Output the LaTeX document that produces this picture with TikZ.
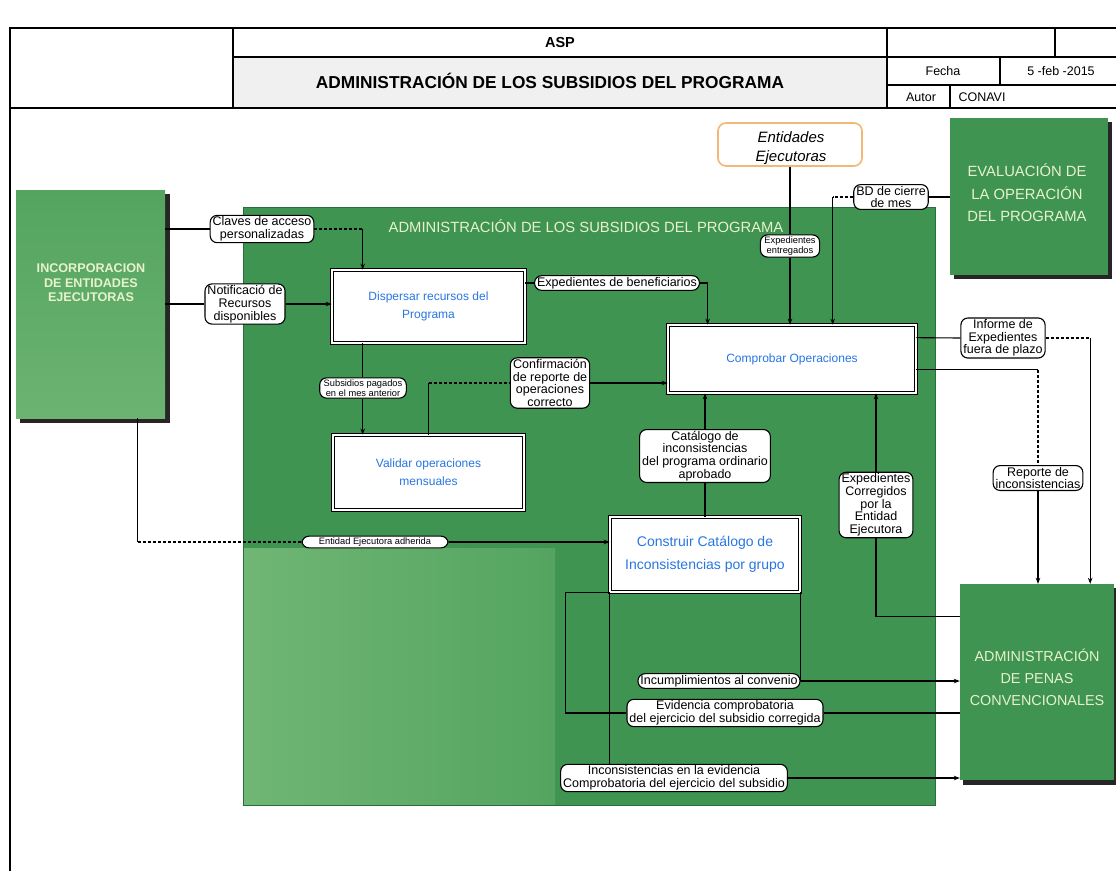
\documentclass[tikz,border=0pt]{standalone}
\usepackage{fontspec}
\setmainfont{Liberation Sans}
\usetikzlibrary{arrows.meta,calc}

\definecolor{areaGreen}{RGB}{62,148,80}
\definecolor{areaEdge}{RGB}{40,110,58}
\definecolor{paleGreen}{RGB}{112,182,116}
\definecolor{midGreen}{RGB}{84,164,96}
\definecolor{boxText}{RGB}{232,242,205}
\definecolor{procBlue}{RGB}{40,118,226}
\definecolor{entBorder}{RGB}{242,184,116}
\definecolor{hdrGray}{RGB}{240,240,240}

\begin{document}
\begin{tikzpicture}[x=1pt,y=-1pt,
  frame/.style={draw=black,line width=1.3pt},
  conn/.style={draw=black,line width=1.1pt},
  arr/.style={-{Stealth[length=6pt,width=4.5pt]}},
  pill/.style={draw=black,line width=1.1pt,fill=white,rounded corners=7pt,
    align=center,inner xsep=2.5pt,inner ysep=1.5pt,
    font=\fontsize{12.5}{12.7}\selectfont},
  smallpill/.style={pill,inner xsep=4pt,font=\fontsize{9.3}{10.5}\selectfont},
  proc/.style={draw=black,line width=0.7pt,double=white,double distance=2.2pt,
    fill=white,align=center,text=procBlue,font=\fontsize{12}{18}\selectfont},
  bigbox/.style={draw=none},
  bigtext/.style={align=center,text=boxText,font=\fontsize{14.8}{22.5}\selectfont},
  hdr/.style={font=\fontsize{12.5}{14}\selectfont}]

\useasboundingbox (0,0) rectangle (1116,871);
\fill[white] (0,0) rectangle (1116,871);

% ---- title block ----
\fill[hdrGray] (233,57) rectangle (887,108);
\draw[frame] (10,871) -- (10,28) -- (1116,28);
\draw[frame] (10,108) -- (1116,108);
\draw[frame] (233,28) -- (233,108);
\draw[frame] (233,57) -- (1116,57);
\draw[frame] (887,28) -- (887,108);
\draw[frame] (1055,28) -- (1055,57);
\draw[frame] (887,85) -- (1116,85);
\draw[frame] (1000,57) -- (1000,85);
\draw[frame] (950,85) -- (950,108);
\node[font=\bfseries\fontsize{14.5}{16}\selectfont] (asp) at (560,43) {ASP};
\node[font=\bfseries\fontsize{17.3}{20}\selectfont] (title) at (550,81) {ADMINISTRACIÓN DE LOS SUBSIDIOS DEL PROGRAMA};
\node[hdr] (fecha) at (943,71) {Fecha};
\node[hdr] (fechaVal) at (1061,71) {5 -feb -2015};
\node[hdr] (autor) at (921,97) {Autor};
\node[hdr,anchor=west] (autorVal) at (955,97) {CONAVI};

% ---- process area ----
\fill[areaGreen] (243,207) rectangle (935,805);
\shade[left color=paleGreen,right color=midGreen] (243,548) rectangle (555,805);
\draw[areaEdge,line width=0.8pt] (243,207) rectangle (935,805);
\node[text=boxText,font=\fontsize{14.8}{16}\selectfont] (areaTitle) at (586,226)
  {ADMINISTRACIÓN DE LOS SUBSIDIOS DEL PROGRAMA};

% ---- outer blocks with drop shadows ----
\fill[black!85] (20,194) rectangle (170,423);
\node[bigbox,shade,top color=midGreen,bottom color=paleGreen!85!midGreen,
  minimum width=149pt,minimum height=228pt] (incorp) at (90.5,304) {};
\node[text=boxText,align=center,font=\bfseries\fontsize{12.6}{14.5}\selectfont]
  (incorpLbl) at (91,283) {INCORPORACION\\DE ENTIDADES\\EJECUTORAS};

\fill[black!85] (954,122) rectangle (1112,279);
\node[bigbox,fill=areaGreen,minimum width=158pt,minimum height=157pt] (evalb) at (1029,196.5) {};
\node[bigtext] (evalbLbl) at (1027,193) {EVALUACIÓN DE\\LA OPERACIÓN\\DEL PROGRAMA};

\fill[black!85] (963,588) rectangle (1116,785);
\node[bigbox,fill=areaGreen,minimum width=154pt,minimum height=196pt] (penas) at (1037,682) {};
\node[bigtext,font=\fontsize{14.4}{22}\selectfont] (penasLbl) at (1037,677)
  {ADMINISTRACIÓN\\DE PENAS\\CONVENCIONALES};

\node[draw=entBorder,line width=1.6pt,fill=white,rounded corners=8pt,
  minimum width=144pt,minimum height=43pt] (entid) at (790,144.5) {};
\node[align=center,font=\itshape\fontsize{15}{19}\selectfont] (entidLbl) at (791,148)
  {Entidades\\Ejecutoras};

% ---- activities ----
\node[proc,minimum width=193pt,minimum height=73pt] (disp) at (428.5,306.5)
  {Dispersar recursos del\\Programa};
\node[proc,minimum width=191pt,minimum height=75pt] (valid) at (428.5,472.5)
  {Validar operaciones\\mensuales};
\node[proc,minimum width=248pt,minimum height=68pt] (comp) at (792,359)
  {Comprobar Operaciones};
\node[proc,minimum width=190pt,minimum height=75pt,
  font=\fontsize{14}{23}\selectfont] (constr) at (705,554.5)
  {Construir Catálogo de\\Inconsistencias por grupo};

% ---- flow labels ----
\node[pill] (claves) at (262,229) {Claves de acceso\\personalizadas};
\node[pill] (notif) at (245,304) {Notificació de\\Recursos\\disponibles};
\node[pill] (benef) at (617,283) {Expedientes de beneficiarios};
\node[smallpill] (expent) at (790,246) {Expedientes\\entregados};
\node[pill] (bd) at (891,197) {BD de cierre\\de mes};
\node[smallpill] (subs) at (363,388) {Subsidios pagados\\en el mes anterior};
\node[pill] (confirm) at (550,383) {Confirmación\\de reporte de\\operaciones\\correcto};
\node[pill] (catal) at (705,456) {Catálogo de\\inconsistencias\\del programa ordinario\\aprobado};
\node[pill] (inf) at (1003,338) {Informe de\\Expedientes\\fuera de plazo};
\node[pill] (corr) at (876,505) {Expedientes\\Corregidos\\por la\\Entidad\\Ejecutora};
\node[pill] (rep) at (1038,478) {Reporte de\\inconsistencias};
\node[smallpill,inner xsep=17pt] (adher) at (375,542) {Entidad Ejecutora adherida};
\node[pill] (incump) at (719,681) {Incumplimientos al convenio};
\node[pill] (evid) at (725,713) {Evidencia comprobatoria\\del ejercicio del subsidio corregida};
\node[pill] (inconsist) at (674,778) {Inconsistencias en la evidencia\\Comprobatoria del ejercicio del subsidio};

% ---- connector anchor points on box edges ----
\coordinate (dIn) at ([xshift=31pt]disp.north west);
\coordinate (dOut) at ([xshift=31pt]disp.south west);
\coordinate (cA) at ([xshift=40pt]comp.north west);
\coordinate (cB) at ([xshift=165pt]comp.north west);
\coordinate (cC) at ([yshift=-13pt]comp.north east);
\coordinate (cD) at ([yshift=-45pt]comp.north east);
\coordinate (pA) at ([yshift=-33pt]penas.north west);
\coordinate (pB) at ([xshift=-24pt]penas.north east);
\coordinate (iA) at ([xshift=122pt]incorp.south west);
\coordinate (kA) at ([xshift=-44pt]constr.south west);

% ---- connectors ----
\draw[conn] (incorp.east |- claves.west) -- (claves.west);
\draw[conn,densely dashed] (claves.east) -- (claves.east -| dIn);
\draw[conn,arr] (claves.east -| dIn) -- (dIn);

\draw[conn] (incorp.east |- notif.west) -- (notif.west);
\draw[conn,arr] (notif.east) -- (notif.east -| disp.west);

\draw[conn] (disp.east |- benef.west) -- (benef.west);
\draw[conn,arr] (benef.east) -| (cA);

\draw[conn] (entid.south) -- (expent.north);
\draw[conn,arr] (expent.south) -- (expent.south |- comp.north);

\draw[conn] (evalb.west |- bd.east) -- (bd.east);
\draw[conn,densely dashed] (bd.west) -- (bd.west -| cB);
\draw[conn,arr] (bd.west -| cB) -- (cB);

\draw[conn] (dOut) -- (dOut |- subs.north);
\draw[conn,arr] (dOut |- subs.south) -- (dOut |- valid.north);

\draw[conn] (valid.north) -- (valid.north |- confirm.west);
\draw[conn,densely dashed] (valid.north |- confirm.west) -- (confirm.west);
\draw[conn,arr] (confirm.east) -- (confirm.east -| comp.west);

\draw[conn] (constr.north) -- (constr.north |- catal.south);
\draw[conn,arr] (constr.north |- catal.north) -- (constr.north |- comp.south);

\draw[conn] (pA) -| (corr.south);
\draw[conn,arr] (corr.north) -- (corr.north |- comp.south);

\draw[conn] (cC) -- (inf.west);
\draw[conn,densely dashed] (inf.east) -- (inf.east -| pB);
\draw[conn,arr] (inf.east -| pB) -- (pB);

\draw[conn] (cD) -- (cD -| rep.north);
\draw[conn,densely dashed] (cD -| rep.north) -- (rep.north);
\draw[conn,arr] (rep.south) -- (rep.south |- penas.north);

\draw[conn] (iA) -- (iA |- adher.west);
\draw[conn,densely dashed] (iA |- adher.west) -- (adher.west);
\draw[conn,arr] (adher.east) -- (adher.east -| constr.west);

\draw[conn] (constr.south east) -- (constr.south east |- incump.east);
\draw[conn,arr] (incump.east) -- (incump.east -| penas.west);

\draw[conn] (constr.south west) -- (kA) -- (kA |- evid.west) -- (evid.west);
\draw[conn] (evid.east) -- (evid.east -| penas.west);
\draw[conn] (constr.south west) -- (constr.south west |- inconsist.north);
\draw[conn,arr] (inconsist.east) -- (inconsist.east -| penas.west);

\end{tikzpicture}
\end{document}
